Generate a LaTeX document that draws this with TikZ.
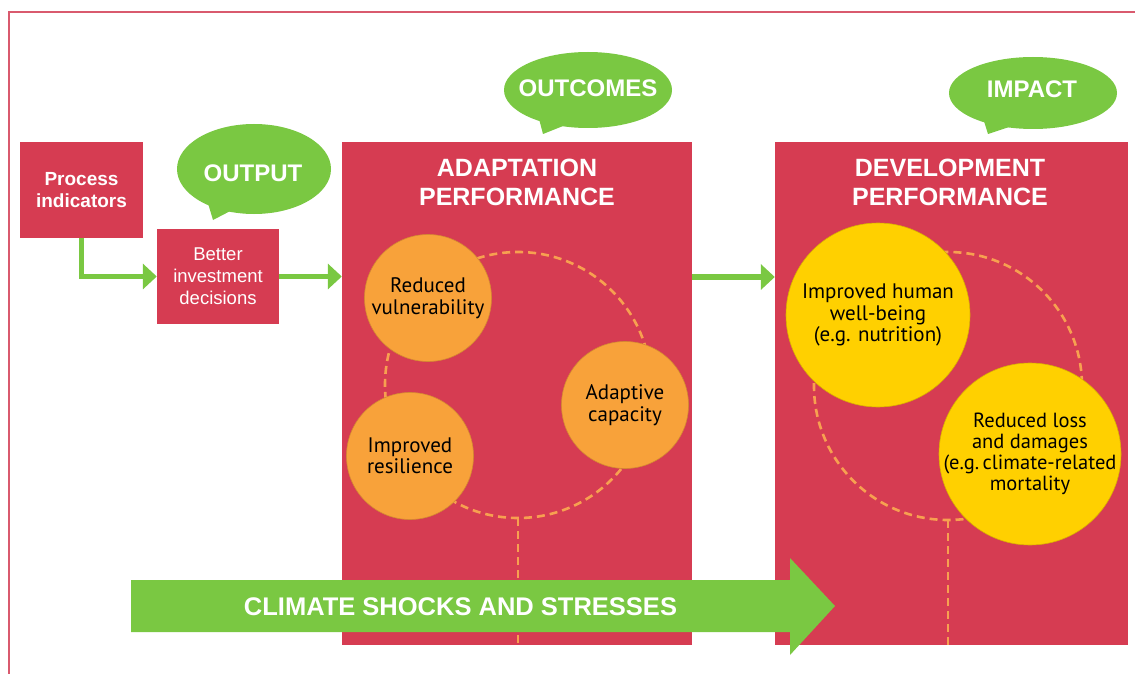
\documentclass[tikz,border=0pt]{standalone}
\usepackage{fontspec}
\setmainfont{Liberation Sans}
\newfontfamily\myriad{PT Sans}
\usetikzlibrary{arrows.meta,calc}
\definecolor{boxred}{RGB}{214,60,82}
\definecolor{bubgreen}{RGB}{122,200,66}
\definecolor{orangec}{RGB}{248,162,58}
\definecolor{yellowc}{RGB}{255,208,0}
\definecolor{dashcol}{RGB}{247,160,80}
\definecolor{framecol}{RGB}{217,90,110}
\tikzset{
  redbox/.style={fill=boxred, draw=none, inner sep=0pt, text=white, align=center},
  bubbletxt/.style={text=white, font=\bfseries\fontsize{24}{28}\selectfont},
  garrow/.style={draw=bubgreen, line width=5.5pt, -{Triangle[length=14pt,width=25pt]}},
  dashline/.style={draw=dashcol, line width=2.6pt, dash pattern=on 8pt off 5pt},
  ocirc/.style={circle, fill=orangec, draw=orangec!85!black, line width=0.6pt, inner sep=0pt, minimum size=127pt, align=center, font=\myriad\fontsize{21}{21.5}\selectfont},
  ycirc/.style={circle, fill=yellowc, draw=yellowc!85!black, line width=0.6pt, inner sep=0pt, minimum size=184pt, align=center, font=\myriad\fontsize{21}{21.5}\selectfont},
  titletxt/.style={text=white, align=center, font=\bfseries\fontsize{25}{29}\selectfont}
}
\begin{document}
\begin{tikzpicture}[x=1pt,y=-1pt]
\useasboundingbox (0,0) rectangle (1135,674);
\fill[white] (0,0) rectangle (1135,674);
% frame
\draw[framecol, line width=1.6pt] (9,674) -- (9,12) -- (1135,12);

% boxes
\node[redbox, minimum width=123pt, minimum height=96pt, font=\bfseries\fontsize{19}{22}\selectfont] (proc) at (81.5,190) {Process\\indicators};
\node[redbox, minimum width=122pt, minimum height=95pt, font=\fontsize{18.5}{22}\selectfont] (better) at (218,276.5) {Better\\investment\\decisions};
\node[redbox, minimum width=350pt, minimum height=503pt] (adapt) at (517,393.5) {};
\node[redbox, minimum width=353pt, minimum height=503pt] (dev) at (951.5,393.5) {};

% titles
\node[titletxt] (adtitle) at (517,182) {ADAPTATION\\PERFORMANCE};
\node[titletxt] (devtitle) at (950,182) {DEVELOPMENT\\PERFORMANCE};

% bubbles
\fill[bubgreen] (254,169) ellipse [x radius=77, y radius=45];
\fill[bubgreen] (207,200) -- (213,220) -- (238,207) -- cycle;
\node[bubbletxt] (outputlbl) at (253,173) {OUTPUT};

\fill[bubgreen] (588,90) ellipse [x radius=84, y radius=38];
\fill[bubgreen] (538,115) -- (543,134) -- (568,124) -- cycle;
\node[bubbletxt] (outcomeslbl) at (588,88) {OUTCOMES};

\fill[bubgreen] (1033,93) ellipse [x radius=84, y radius=36];
\fill[bubgreen] (983,118) -- (988,134) -- (1012,126) -- cycle;
\node[bubbletxt] (impactlbl) at (1032,89) {IMPACT};

% arrows
\draw[garrow] (proc.south) |- (better.west);
\draw[garrow] (better.east) -- (better.east -| adapt.west);
\coordinate (a1) at (adapt.east |- 0,277);
\coordinate (a2) at (dev.west |- 0,277);
\draw[garrow] (a1) -- (a2);

% dashed structures
\coordinate (ac) at (518,385);
\draw[dashline] (ac) circle [radius=133];
\draw[dashline] ($(ac)+(0,133)$) -- (518,645);
\coordinate (dc) at (948,386);
\draw[dashline] (dc) circle [radius=134];
\draw[dashline] ($(dc)+(0,134)$) -- (948,645);

% circles
\node[ocirc] (vuln) at (428,298) {Reduced\\vulnerability};
\node[ocirc] (adcap) at (625,405) {Adaptive\\capacity};
\node[ocirc] (resil) at (410,456) {Improved\\resilience};
\node[ycirc] (human) at (878,315) {Improved human\\well-being\\(e.g. nutrition)};
\node[ycirc, minimum size=182pt, inner sep=-8pt, font=\myriad\fontsize{20.5}{21}\selectfont] (loss) at (1030,454) {Reduced loss\\and damages\\(e.g.\,climate-related\\mortality};

% climate arrow
\fill[bubgreen] (131,580) -- (790,580) -- (790,558) -- (835,606) -- (790,655) -- (790,632) -- (131,632) -- cycle;
\node[text=white, font=\bfseries\fontsize{25.5}{29}\selectfont] (climate) at (460.5,607) {CLIMATE SHOCKS AND STRESSES};
\end{tikzpicture}
\end{document}
